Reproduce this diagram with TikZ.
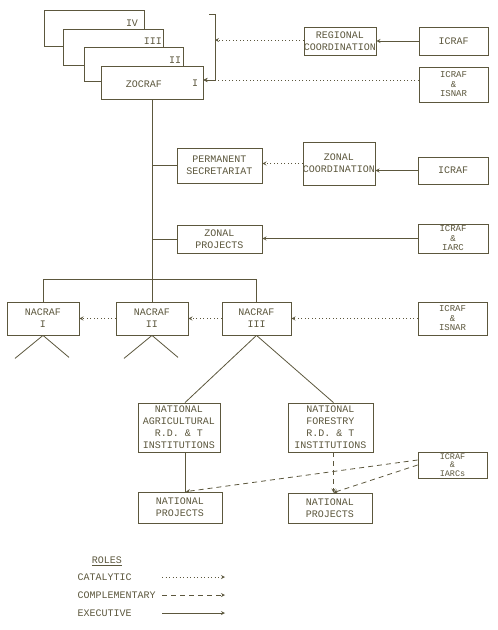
\documentclass[tikz,border=0pt]{standalone}
\usepackage{fontspec}
\setmainfont{Liberation Mono}
\usepackage{tikz}
\usetikzlibrary{arrows}
\definecolor{ink}{rgb}{0.36,0.34,0.24}

\begin{document}
\begin{tikzpicture}[x=1pt,y=-1pt,font=\fontsize{10}{12}\selectfont,
    every node/.style={text=ink},
    box/.style={draw=ink,line width=0.8pt,fill=white,inner sep=0pt,align=center},
    tight/.style={font=\fontsize{9}{9.5}\selectfont},
    link/.style={draw=ink,line width=0.8pt},
    exe/.style={link,->,>=stealth},
    cat/.style={exe,dash pattern=on 1pt off 2.5pt},
    com/.style={exe,dash pattern=on 5pt off 4pt}]
    \useasboundingbox (0,0) rectangle (498,630);

    % the zonal bodies, stacked
    \node[box,minimum width=100,minimum height=36] (zoc4) at (94,28) {};
    \node[box,minimum width=100,minimum height=36] (zoc3) at (113,47) {};
    \node[box,minimum width=99,minimum height=34] (zoc2) at (133.5,64) {};
    \node[box,minimum width=102,minimum height=33] (zoc1) at (152,82.5) {};
    \node (n4) at (132,23) {IV};
    \node (n3) at (153,41) {III};
    \node (n2) at (175,60) {II};
    \node (n1) at (195,83) {I};
    \node (zocraf) at (144,84) {ZOCRAF};

    \node[box,minimum width=72,minimum height=28] (regco) at (340,41) {REGIONAL\\COORDINATION};
    \node[box,minimum width=69,minimum height=28] (icraf1) at (453.5,41) {ICRAF};
    \node[box,tight,minimum width=69,minimum height=35] (icisn1) at (453.5,84.5) {ICRAF\\\&\\ISNAR};

    \coordinate (brtop) at (209,14);
    \coordinate (brk) at (215,40);
    \coordinate (brbot) at (215,80);
    \draw[exe] (brtop) -| (brbot) -- (zoc1.east |- brbot);
    \draw[exe] (icraf1.west) -- (regco.east |- icraf1.west);
    \draw[cat] (regco.west |- brk) -- (brk);
    \draw[cat] (icisn1.west |- brbot) -- (zoc1.east |- brbot);

    % zonal level
    \node[box,minimum width=85,minimum height=35] (perm) at (219.5,165.5) {PERMANENT\\SECRETARIAT};
    \node[box,minimum width=72,minimum height=43] (zco) at (339,163.5) {ZONAL\\COORDINATION};
    \node[box,minimum width=70,minimum height=27] (icraf2) at (453,170.5) {ICRAF};
    \node[box,minimum width=85,minimum height=28] (zpro) at (219.5,239) {ZONAL\\PROJECTS};
    \node[box,tight,minimum width=70,minimum height=29] (iciar1) at (453,238.5) {ICRAF\\\&\\IARC};

    \draw[exe] (icraf2.west) -- (zco.east |- icraf2.west);
    \draw[cat] (zco.west) -- (perm.east |- zco.west);
    \draw[exe] (iciar1.west) -- (zpro.east |- iciar1.west);

    % national level
    \node[box,minimum width=72,minimum height=33] (nac1) at (43,318.5) {NACRAF\\I};
    \node[box,minimum width=72,minimum height=33] (nac2) at (152,318.5) {NACRAF\\II};
    \node[box,minimum width=69,minimum height=33] (nac3) at (256.5,318.5) {NACRAF\\III};
    \node[box,tight,minimum width=69,minimum height=33] (icisn2) at (452.5,318.5) {ICRAF\\\&\\ISNAR};

    \draw[link] (zoc1.south) -- (nac2.north);
    \draw[link] (zoc1.south |- perm.west) -- (perm.west);
    \draw[link] (zoc1.south |- zpro.west) -- (zpro.west);
    \draw[link] (nac1.north) -- ++(0,-22) -| (nac3.north);
    \draw[cat] (icisn2) -- (nac3);
    \draw[cat] (nac3) -- (nac2);
    \draw[cat] (nac2) -- (nac1);
    \foreach \n in {nac1,nac2}
    \draw[link] (\n.south) -- ++(-28,23) (\n.south) -- ++(26,22);

    \node[box,minimum width=82,minimum height=49] (agri) at (179,427.5) {NATIONAL\\AGRICULTURAL\\R.D. \& T\\INSTITUTIONS};
    \node[box,minimum width=85,minimum height=49] (fore) at (330.5,427.5) {NATIONAL\\FORESTRY\\R.D. \& T\\INSTITUTIONS};
    \node[box,minimum width=84,minimum height=31] (np1) at (180,507.5) {NATIONAL\\PROJECTS};
    \node[box,minimum width=84,minimum height=30] (np2) at (330,508) {NATIONAL\\PROJECTS};
    \node[box,font=\fontsize{8.5}{8.5}\selectfont,minimum width=69,minimum height=26] (iciar2) at (452.5,465) {ICRAF\\\&\\IARCs};

    \draw[link] (nac3.south) -- ([xshift=6pt]agri.north);
    \draw[link] (nac3.south) -- ([xshift=3pt]fore.north);
    \draw[link] ([xshift=6pt]agri.south) -- ([xshift=6pt]agri.south |- np1.north);
    \draw[com] ([xshift=3pt]fore.south) -- ([xshift=3pt]fore.south |- np2.north);
    \draw[com] ([yshift=5pt]iciar2.west) -- ([xshift=7pt]agri.south |- np1.north);
    \draw[com] (iciar2.west) -- ([xshift=3pt]fore.south |- np2.north);

    % legend
    \node (roles) at (107,561) {\underline{ROLES}};
    \node[anchor=west] (cata) at (74,577) {CATALYTIC};
    \node[anchor=west] (comp) at (74,595) {COMPLEMENTARY};
    \node[anchor=west] (exec) at (74,613) {EXECUTIVE};
    \coordinate (lega) at (162,0);
    \coordinate (legb) at (225,0);
    \draw[cat] (cata.east -| lega) -- (cata.east -| legb);
    \draw[com] (comp.east -| lega) -- (comp.east -| legb);
    \draw[exe] (exec.east -| lega) -- (exec.east -| legb);
\end{tikzpicture}
\end{document}
